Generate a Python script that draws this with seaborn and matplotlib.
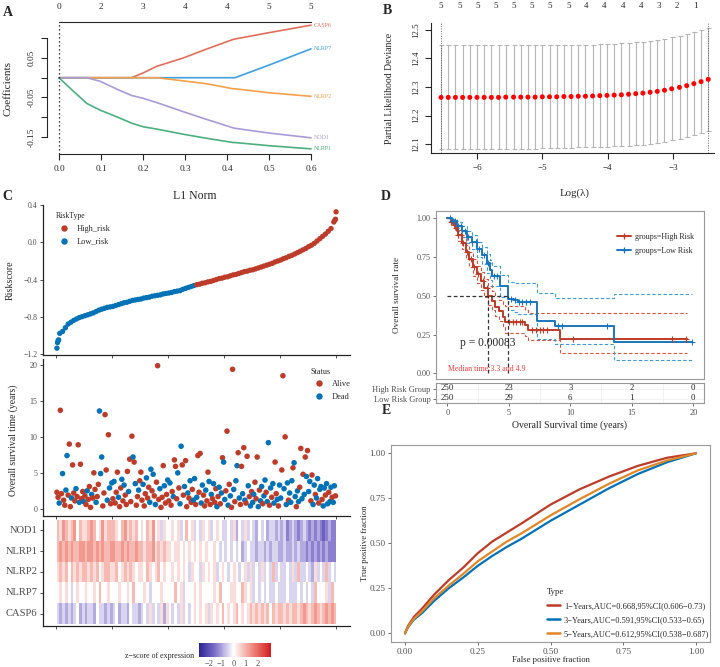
import numpy as np
import pandas as pd
import matplotlib
matplotlib.use("Agg")
import matplotlib.pyplot as plt
import seaborn as sns
from matplotlib.lines import Line2D
from matplotlib.colors import LinearSegmentedColormap

sns.set_style("ticks")
plt.rcParams["font.family"] = ["Liberation Serif", "DejaVu Serif"]
plt.rcParams["axes.unicode_minus"] = True

# ---------------- Panel A : LASSO coefficient paths ----------------
l1_norm = [0, 0.03, 0.066, 0.098, 0.14, 0.173, 0.20, 0.233, 0.296, 0.35, 0.415, 0.419, 0.5, 0.6]
coef_CASP6 = [0, 0, 0, 0, 0, 0, 0.012, 0.029, 0.05, 0.072, 0.097, 0.098, 0.114, 0.133]
coef_NLRP7 = [0, 0, 0, 0, 0, 0, 0, 0, 0, 0, 0, 0, 0.032, 0.073]
coef_NLRP2 = [0, 0, 0, 0, 0, 0, 0, 0, -0.008, -0.015, -0.028, -0.028, -0.038, -0.047]
coef_NOD1 = [0, 0, 0, -0.009, -0.03, -0.045, -0.052, -0.063, -0.086, -0.105, -0.127, -0.128, -0.14, -0.152]
coef_NLRP1 = [0, -0.03, -0.065, -0.082, -0.10, -0.115, -0.124, -0.13, -0.143, -0.153, -0.164, -0.164, -0.172, -0.18]
A_top_labels = ["0", "2", "3", "4", "4", "5", "5"]

# ---------------- Panel B : cross-validation ----------------
log_lambda = [-6.55, -6.44, -6.33, -6.22, -6.11, -6.00, -5.89, -5.78, -5.67, -5.56, -5.44, -5.33,
              -5.22, -5.11, -5.00, -4.89, -4.78, -4.67, -4.56, -4.45, -4.34, -4.23, -4.12, -4.01,
              -3.90, -3.79, -3.68, -3.57, -3.46, -3.35, -3.24, -3.13, -3.02, -2.90, -2.79, -2.68,
              -2.57, -2.46]
cv_mean = [12.264, 12.264, 12.264, 12.264, 12.264, 12.264, 12.264, 12.264, 12.264, 12.265, 12.265,
           12.265, 12.265, 12.265, 12.266, 12.266, 12.266, 12.267, 12.267, 12.268, 12.268, 12.269,
           12.270, 12.271, 12.272, 12.273, 12.275, 12.277, 12.279, 12.282, 12.285, 12.289, 12.294,
           12.299, 12.305, 12.312, 12.319, 12.327]
cv_upper = [12.446, 12.446, 12.446, 12.446, 12.446, 12.446, 12.446, 12.446, 12.446, 12.446, 12.446,
            12.446, 12.446, 12.446, 12.446, 12.446, 12.446, 12.446, 12.446, 12.447, 12.447, 12.448,
            12.449, 12.450, 12.451, 12.453, 12.455, 12.457, 12.459, 12.462, 12.465, 12.469, 12.474,
            12.479, 12.485, 12.492, 12.500, 12.508]
cv_lower = [12.082, 12.082, 12.082, 12.082, 12.082, 12.082, 12.082, 12.082, 12.082, 12.084, 12.084,
            12.084, 12.084, 12.084, 12.086, 12.086, 12.086, 12.088, 12.088, 12.089, 12.089, 12.090,
            12.091, 12.092, 12.093, 12.093, 12.095, 12.097, 12.099, 12.102, 12.105, 12.109, 12.114,
            12.119, 12.125, 12.132, 12.138, 12.146]
B_top_pos = [-6.55, -6.27, -5.99, -5.72, -5.44, -5.16, -4.88, -4.60, -4.33, -4.05, -3.77, -3.49,
             -3.21, -2.94, -2.66]
B_top_labels = ["5", "5", "5", "5", "5", "5", "5", "5", "4", "4", "4", "4", "3", "2", "1"]

# ---------------- Panel C : risk score / survival / heatmap ----------------
risk_rank = [1, 2, 3, 4] + list(range(6, 497, 5)) + [498, 499, 500]
risk_score = [-1.14, -1.08, -1.06, -1.05,
              -0.98, -0.96, -0.92, -0.88, -0.86, -0.84, -0.825, -0.81, -0.80, -0.79,
              -0.78, -0.77, -0.76, -0.745, -0.73, -0.72, -0.71, -0.70, -0.695, -0.69,
              -0.68, -0.67, -0.66, -0.65, -0.645, -0.635, -0.625, -0.62, -0.615, -0.61,
              -0.60, -0.595, -0.59, -0.58, -0.575, -0.57, -0.565, -0.555, -0.55, -0.545,
              -0.54, -0.53, -0.525, -0.52, -0.505, -0.495, -0.485, -0.475, -0.465, -0.455,
              -0.45, -0.44, -0.435, -0.425, -0.42, -0.41, -0.40, -0.39, -0.385, -0.375,
              -0.37, -0.36, -0.35, -0.345, -0.335, -0.325, -0.315, -0.31, -0.30, -0.295,
              -0.285, -0.275, -0.265, -0.255, -0.245, -0.235, -0.225, -0.21, -0.20, -0.19,
              -0.175, -0.165, -0.15, -0.14, -0.125, -0.11, -0.095, -0.08, -0.065, -0.045,
              -0.03, -0.01, 0.015, 0.04, 0.065, 0.09, 0.12, 0.15, 0.22,
              0.24, 0.25, 0.33]
risk_cutoff_rank = 250

os_rank = list(range(1, 500, 2))
os_time = [
    2.3, 1.6, 0.8, 13.7, 2.1, 4.9, 1.2, 0.5, 2.6, 7.4, 1.9, 9.0, 0.3, 1.5, 6.1, 2.2, 1.1, 2.8, 1.7, 8.9, 0.9, 6.2, 1.4, 2.4, 1.0,
    1.8, 0.6, 2.5, 1.3, 3.1, 0.2, 2.0, 1.5, 5.0, 2.7, 0.9, 1.7, 3.4, 13.6, 4.9, 7.2, 0.4, 2.2, 13.1, 5.4, 1.2, 10.3, 2.9, 0.7, 3.6,
    1.4, 3.8, 0.8, 2.3, 5.1, 1.6, 0.3, 2.9, 4.1, 1.1, 3.3, 1.9, 0.6, 5.2, 2.4, 6.9, 1.0, 10.1, 7.2, 6.5, 3.5, 0.5, 1.7, 2.6, 3.9,
    5.1, 1.2, 3.4, 0.4, 2.1, 4.3, 1.5, 3.0, 0.9, 5.5, 2.5, 4.8, 1.8, 0.6, 3.7, 19.9, 1.3, 2.8, 0.2, 1.6, 6.0, 3.2, 0.8, 2.0, 4.0,
    1.1, 3.6, 0.5, 2.4, 1.7, 6.8, 5.9, 1.4, 5.0, 2.9, 0.7, 8.7, 6.1, 1.9, 3.1, 6.7, 0.3, 2.2, 1.5, 3.9, 0.9, 2.7, 1.2, 4.2, 0.6,
    1.6, 7.4, 2.3, 7.7, 0.8, 3.3, 1.9, 0.4, 2.6, 1.1, 5.1, 3.8, 0.6, 2.0, 1.4, 3.5, 0.9, 2.8, 0.3, 1.7, 3.0, 0.7, 2.2, 7.1, 6.5,
    1.3, 2.5, 10.8, 0.5, 3.4, 1.8, 0.2, 19.4, 2.7, 1.0, 3.9, 6.0, 7.8, 1.5, 0.6, 5.9, 2.1, 8.5, 1.2, 0.8, 7.3, 3.2, 1.7, 0.4, 2.4,
    0.9, 2.0, 3.7, 1.4, 7.2, 0.3, 2.6, 1.1, 3.1, 0.7, 1.8, 4.0, 2.3, 1.0, 9.2, 0.5, 2.9, 1.6, 3.5, 0.8, 6.5, 2.1, 1.3, 0.4, 3.3,
    1.5, 5.4, 18.5, 2.8, 10.0, 0.6, 3.6, 1.2, 2.2, 0.9, 3.9, 5.7, 6.4, 1.7, 0.3, 2.5, 1.0, 3.0, 8.4, 1.4, 4.8, 2.0, 7.2, 4.5, 8.1,
    2.4, 3.8, 1.1, 4.7, 0.6, 3.3, 2.0, 1.5, 4.2, 0.8, 2.7, 3.1, 1.3, 0.4, 2.9, 1.9, 3.5, 0.7, 2.3, 1.0, 3.0, 1.6, 0.9, 3.2, 1.8]
os_status_code = ("AADAADAADDAAADAAADAADAAAD" "AADAAADAAADAADDDAAAADADAD" "ADAAADAADADAAADAAADADAADA"
                  "AADAADAADDADADAAADAAADAAD" "ADAADAAADADDAADAADADAADDA" "DAAADDAADAADADADAADADADAD"
                  "DAADADAADADDADAADADAADADA" "DDAAADADDADDADDADADDAADAD" "DAADADDADDDADDADDAADADADA"
                  "DDAADDADDADDADDADDADDADDA")

genes = ["NOD1", "NLRP1", "NLRP2", "NLRP7", "CASP6"]
expr_NOD1 = ("6576567465" "5676457566" "6546756564" "5465745354" "4545346453"
             "4354534543" "3435243534" "3243423323" "2312321232" "1212101211")
expr_NLRP1 = ("6767676677" "6776767667" "7667676676" "6566756565" "5455454545"
              "4545445434" "3434342343" "3233232332" "2322323221" "2121212111")
expr_NLRP2 = ("5656465656" "6565645665" "5645656545" "5465456454" "4545454354"
              "4354545345" "4345434535" "3435343634" "3343536334" "3253436343")
expr_NLRP7 = ("4545434544" "5445464454" "4454454644" "4543444544" "4464534445"
              "4544445464" "4455446545" "3434343343" "3343334343" "4364445364")
expr_CASP6 = ("3232323423" "2332433232" "3423324332" "3435343525" "4343534345"
              "4545354546" "4545645456" "5656564656" "6565665676" "5676567676")
zscore_step = 0.45   # one digit level in the expression strings

# ---------------- Panel D : Kaplan-Meier ----------------
hi_time = [0, 0.3, 0.6, 0.9, 1.2, 1.5, 1.8, 2.1, 2.4, 2.7, 3.0, 3.3, 3.6, 3.9, 4.2, 4.5, 4.7, 6.3, 6.6, 9.2, 19.5]
hi_surv = [1.0, 0.975, 0.94, 0.89, 0.84, 0.785, 0.735, 0.685, 0.64, 0.595, 0.55, 0.50, 0.465, 0.43, 0.40,
           0.365, 0.333, 0.31, 0.28, 0.222, 0.222]
hi_upper = [1.0, 0.99, 0.965, 0.925, 0.88, 0.83, 0.785, 0.74, 0.695, 0.655, 0.61, 0.565, 0.53, 0.50, 0.47,
            0.45, 0.435, 0.41, 0.388, 0.387, 0.387]
hi_lower = [1.0, 0.955, 0.915, 0.855, 0.80, 0.74, 0.685, 0.63, 0.585, 0.535, 0.49, 0.44, 0.405, 0.37, 0.34,
            0.305, 0.258, 0.24, 0.215, 0.129, 0.129]
lo_time = [0, 0.4, 0.8, 1.2, 1.6, 2.0, 2.4, 2.8, 3.2, 3.47, 3.6, 4.28, 4.96, 5.4, 5.77, 7.26, 7.3, 8.75, 13.55, 19.9]
lo_surv = [1.0, 0.98, 0.95, 0.915, 0.88, 0.845, 0.80, 0.76, 0.71, 0.667, 0.625, 0.56, 0.48, 0.47, 0.458,
           0.381, 0.34, 0.308, 0.204, 0.204]
lo_upper = [1.0, 0.995, 0.975, 0.95, 0.92, 0.89, 0.85, 0.815, 0.77, 0.73, 0.695, 0.635, 0.59, 0.58, 0.58,
            0.515, 0.515, 0.487, 0.509, 0.509]
lo_lower = [1.0, 0.96, 0.92, 0.88, 0.84, 0.80, 0.75, 0.705, 0.65, 0.605, 0.56, 0.49, 0.41, 0.395, 0.38,
            0.30, 0.224, 0.19, 0.084, 0.084]
hi_censor = [0.3, 0.5, 0.7, 0.9, 1.1, 1.3, 1.6, 1.9, 2.2, 2.5, 2.9, 3.2, 5.0, 5.3, 5.6, 5.9, 6.1,
             6.9, 7.2, 7.5, 7.8, 8.1, 10.2, 18.3, 19.4]
lo_censor = [0.2, 0.4, 0.6, 0.9, 1.1, 1.4, 1.7, 2.0, 2.3, 2.6, 3.0, 3.3, 3.8, 4.0, 5.2, 5.5, 5.8, 6.1,
             6.4, 6.7, 9.0, 9.3, 13.0, 19.9]
median_times = [3.3, 4.9]
risk_times = [0, 5, 10, 15, 20]
hi_at_risk = [250, 23, 3, 2, 0]
lo_at_risk = [250, 29, 6, 1, 0]
p_value_text = "p = 0.00083"

# ---------------- Panel E : time-dependent ROC ----------------
roc_fpr = [0, 0.01, 0.03, 0.06, 0.10, 0.15, 0.20, 0.25, 0.30, 0.35, 0.40, 0.50, 0.60, 0.70, 0.80, 0.90, 1.0]
roc_tpr_1y = [0, 0.04, 0.09, 0.14, 0.215, 0.295, 0.365, 0.445, 0.51, 0.56, 0.61, 0.715, 0.80, 0.87, 0.93, 0.975, 1.0]
roc_tpr_3y = [0, 0.033, 0.075, 0.115, 0.18, 0.25, 0.31, 0.375, 0.43, 0.48, 0.525, 0.625, 0.715, 0.805, 0.885, 0.95, 1.0]
roc_tpr_5y = [0, 0.035, 0.08, 0.125, 0.195, 0.265, 0.33, 0.40, 0.455, 0.51, 0.555, 0.655, 0.745, 0.83, 0.905, 0.96, 1.0]
roc_labels = ["1\u2212Years,AUC=0.668,95%CI(0.606\u22120.73)",
              "3\u2212Years,AUC=0.591,95%CI(0.533\u22120.65)",
              "5\u2212Years,AUC=0.612,95%CI(0.538\u22120.687)"]

RED, BLUE, ORANGE = "#BC3C29", "#0072B5", "#E18727"
GREY30 = "#4d4d4d"

W, H = 720, 667
fig = plt.figure(figsize=(7.2, 6.67), dpi=100)


def axpx(l, t, r, b):
    return fig.add_axes([l / W, 1 - b / H, (r - l) / W, (b - t) / H])


def ftext(x, y, s, **kw):
    kw.setdefault("ha", "center")
    kw.setdefault("va", "center")
    fig.text(x / W, 1 - y / H, s, **kw)


# ======================= A =======================
axA = axpx(47, 22, 321, 154)
A_genes = [("CASP6", coef_CASP6, "#E06E5A"), ("NLRP7", coef_NLRP7, "#3FA1E0"),
           ("NLRP2", coef_NLRP2, "#F5A04A"), ("NOD1", coef_NOD1, "#A89BD6"),
           ("NLRP1", coef_NLRP1, "#4CAF7D")]
for name, vals, col in A_genes:
    sns.lineplot(x=l1_norm, y=vals, ax=axA, color=col, lw=1.2)
    axA.text(l1_norm[-1] + 0.006, vals[-1], name, color=col, fontsize=4.3, ha="left", va="center")
axA.axvline(0, color="k", lw=0.9, ls=(0, (1, 2.2)))
axA.set_xlim(-0.0286, 0.6238)
axA.set_ylim(-0.193, 0.141)
axA.set_xticks([0, 0.1, 0.2, 0.3, 0.4, 0.5, 0.6])
axA.set_xticklabels(["0.0", "0.1", "0.2", "0.3", "0.4", "0.5", "0.6"], fontsize=6.7)
axA.set_yticks([0.10, 0.05, 0.0, -0.05, -0.10, -0.15])
axA.set_yticklabels(["", "0.05", "", "-0.05", "", "-0.15"], fontsize=6.7, rotation=90, va="center")
axA.spines["right"].set_visible(False)
axA.spines["top"].set_visible(False)
axA.spines["bottom"].set_bounds(0, 0.6)
axA.spines["left"].set_bounds(-0.15, 0.10)
for s in ["bottom", "left"]:
    axA.spines[s].set_linewidth(0.8)
axA.tick_params(direction="out", length=4, width=0.8, pad=4)
axAt = axA.twiny()
axAt.set_xlim(axA.get_xlim())
axAt.set_xticks([0, 0.1, 0.2, 0.3, 0.4, 0.5, 0.6])
axAt.set_xticklabels(A_top_labels, fontsize=6.7)
for s in ["left", "right", "bottom"]:
    axAt.spines[s].set_visible(False)
axAt.spines["top"].set_bounds(0, 0.6)
axAt.spines["top"].set_linewidth(0.8)
axAt.tick_params(length=0, pad=8)
axA.set_xlabel("")
axA.set_ylabel("")
ftext(8, 88, "Coefficients", fontsize=8.1, rotation=90)
ftext(195, 196, "L1 Norm", fontsize=8.5)

# ======================= B =======================
axB = axpx(431, 23, 714, 153)
lam = np.array(log_lambda)
mean = np.array(cv_mean)
axB.errorbar(lam, mean, yerr=[mean - np.array(cv_lower), np.array(cv_upper) - mean], fmt="none",
             ecolor="#b5b5b5", elinewidth=0.8, capsize=1.8, capthick=0.8)
sns.scatterplot(x=log_lambda, y=cv_mean, ax=axB, color="#FF0000", s=13, edgecolor="none", zorder=3)
axB.axvline(log_lambda[0], color="#666666", lw=0.7, ls=(0, (1, 1.5)))
axB.axvline(log_lambda[-1], color="#666666", lw=0.7, ls=(0, (1, 1.5)))
axB.set_xlim(-6.704, -2.372)
axB.set_ylim(12.0696, 12.524)
axB.set_xticks([-6, -5, -4, -3])
axB.set_xticklabels(["\u22126", "\u22125", "\u22124", "\u22123"], fontsize=6.5)
axB.set_yticks([12.1, 12.2, 12.3, 12.4, 12.5])
axB.set_yticklabels(["12.1", "12.2", "12.3", "12.4", "12.5"], fontsize=6.3, rotation=90, va="center")
axB.spines["right"].set_visible(False)
axB.spines["top"].set_visible(False)
for s in ["bottom", "left"]:
    axB.spines[s].set_linewidth(0.8)
axB.tick_params(direction="out", length=4, width=0.8, pad=4)
axBt = axB.twiny()
axBt.set_xlim(axB.get_xlim())
axBt.set_xticks(B_top_pos)
axBt.set_xticklabels(B_top_labels, fontsize=6.5)
for s in axBt.spines.values():
    s.set_visible(False)
axBt.tick_params(length=0, pad=9)
axB.set_xlabel("")
axB.set_ylabel("")
ftext(389, 88, "Partial Likelihood Deviance", fontsize=7, rotation=90)
ftext(575, 193, "Log(\u03bb)", fontsize=7.8)

# ======================= C =======================
XL = (-23.95, 524.95)
ticks_rank = [0, 100, 200, 300, 400, 500]

axR = axpx(43, 205, 350, 355)
risk_df = pd.DataFrame({"rank": risk_rank, "score": risk_score})
risk_df["RiskType"] = np.where(risk_df["rank"] > risk_cutoff_rank, "High_risk", "Low_risk")
sns.scatterplot(data=risk_df, x="rank", y="score", hue="RiskType", ax=axR,
                palette={"High_risk": RED, "Low_risk": BLUE}, s=15, edgecolor="none", legend=False)
axR.set_xlim(*XL)
axR.set_ylim(-1.2135, 0.4035)
axR.set_yticks([0.4, 0.0, -0.4, -0.8, -1.2])
axR.set_yticklabels(["0.4", "0.0", "\u22120.4", "\u22120.8", "\u22121.2"], fontsize=5.6, color=GREY30)
axR.set_xticks(ticks_rank)
axR.set_xticklabels([])
axR.set_xlabel("")
axR.set_ylabel("")
leg = axR.legend(handles=[Line2D([], [], marker="o", ls="", color=RED, markersize=3.6),
                          Line2D([], [], marker="o", ls="", color=BLUE, markersize=3.6)],
                 labels=["High_risk", "Low_risk"], title="RiskType", loc="upper left",
                 bbox_to_anchor=(48 / W, 1 - 205 / H), bbox_transform=fig.transFigure,
                 frameon=False, fontsize=6, title_fontsize=5.6, handletextpad=0.6, labelspacing=0.55)
leg._legend_box.align = "left"

axS = axpx(43, 358.5, 350, 516)
os_df = pd.DataFrame({"rank": os_rank, "time": os_time,
                      "Status": ["Alive" if c == "A" else "Dead" for c in os_status_code]})
sns.scatterplot(data=os_df, x="rank", y="time", hue="Status", ax=axS,
                palette={"Alive": RED, "Dead": BLUE}, s=16, edgecolor="none", legend=False)
axS.set_xlim(*XL)
axS.set_ylim(-1.0, 20.9)
axS.set_yticks([0, 5, 10, 15, 20])
axS.set_yticklabels(["0", "5", "10", "15", "20"], fontsize=5.8, color=GREY30)
axS.set_xticks(ticks_rank)
axS.set_xticklabels([])
axS.set_xlabel("")
axS.set_ylabel("")
leg2 = axS.legend(handles=[Line2D([], [], marker="o", ls="", color=RED, markersize=3.6),
                           Line2D([], [], marker="o", ls="", color=BLUE, markersize=3.6)],
                  labels=["Alive", "Dead"], title="Status", loc="upper left",
                  bbox_to_anchor=(303 / W, 1 - 360 / H), bbox_transform=fig.transFigure,
                  frameon=False, fontsize=6, title_fontsize=5.9, handletextpad=0.6, labelspacing=0.55)
leg2._legend_box.align = "left"

for ax in (axR, axS):
    sns.despine(ax=ax)
    for s in ["bottom", "left"]:
        ax.spines[s].set_linewidth(0.9)
        ax.spines[s].set_color("#222222")
    ax.tick_params(length=2.5, width=0.6, colors="#333333", pad=1.5)
    ax.tick_params(axis="y", labelcolor=GREY30)

ftext(10, 280, "Riskscore", fontsize=7.2, rotation=90)
ftext(13, 440, "Overall survival time (years)", fontsize=6.9, rotation=90)

axH = axpx(43, 520, 350, 626)
cax = axpx(199, 643, 271, 657)
expr = np.array([[(int(ch) - 4) * zscore_step for ch in row]
                 for row in (expr_NOD1, expr_NLRP1, expr_NLRP2, expr_NLRP7, expr_CASP6)])
heat_df = pd.DataFrame(expr, index=genes)
cmap = LinearSegmentedColormap.from_list("bwr2", ["#1c168a", "#7d6fc9", "#ffffff", "#ef8a7e", "#d21e1e"])
sns.heatmap(heat_df, ax=axH, cmap=cmap, vmin=-2.85, vmax=3.1, center=0, cbar_ax=cax,
            cbar_kws={"orientation": "horizontal", "ticks": [-2, -1, 0, 1, 2]},
            xticklabels=False, yticklabels=genes)
ncol = expr.shape[1]
rank_per_col = 500 / ncol
axH.set_xlim((XL[0] - 0.5) / rank_per_col, (XL[1] - 0.5) / rank_per_col)
axH.set_ylim(5.1, 0)
axH.set_xticks([(r - 0.5) / rank_per_col for r in ticks_rank])
axH.set_xticklabels([])
axH.set_yticklabels(genes, rotation=0, fontsize=7.6, color=GREY30)
for s in ["left", "bottom"]:
    axH.spines[s].set_visible(True)
    axH.spines[s].set_linewidth(0.9)
    axH.spines[s].set_color("#222222")
axH.tick_params(length=2.5, width=0.6, colors="#333333", pad=1.5, bottom=True, left=True)
axH.tick_params(axis="y", labelcolor=GREY30)
axH.set_xlabel("")
axH.set_ylabel("")
cbar = axH.collections[0].colorbar
cbar.outline.set_visible(False)
cbar.ax.tick_params(labelsize=6, length=0, pad=2, labelcolor=GREY30)
cbar.ax.set_xticklabels(["\u22122", "\u22121", "0", "1", "2"])
ftext(194, 656, "z\u2212score of expression", fontsize=5.7, ha="right")

# ======================= D =======================
axD = axpx(436, 211, 704, 379)
for t, u, l, col in [(hi_time, hi_upper, hi_lower, "#D9503D"), (lo_time, lo_upper, lo_lower, "#3A9AD9")]:
    axD.plot(t, u, drawstyle="steps-post", color=col, lw=0.8, ls=(0, (3, 2)))
    axD.plot(t, l, drawstyle="steps-post", color=col, lw=0.8, ls=(0, (3, 2)))
sns.lineplot(x=hi_time, y=hi_surv, ax=axD, drawstyle="steps-post", color=RED, lw=1.4)
sns.lineplot(x=lo_time, y=lo_surv, ax=axD, drawstyle="steps-post", color="#1B75BB", lw=1.4)
for tt, ss, cens, col in [(hi_time, hi_surv, hi_censor, RED), (lo_time, lo_surv, lo_censor, "#1B75BB")]:
    idx = np.searchsorted(tt, cens, side="right") - 1
    axD.plot(cens, np.array(ss)[idx], ls="", marker="+", color=col, ms=4.5, mew=0.8)
axD.plot([0, max(median_times)], [0.5, 0.5], color="#333333", lw=0.9, ls=(0, (3, 2)))
for m in median_times:
    axD.plot([m, m], [0, 0.5], color="#333333", lw=0.9, ls=(0, (3, 2)))
axD.text(1.03, 0.195, p_value_text, fontsize=8.3, ha="left", va="center")
axD.text(0.06, 0.026, "Median time:3.3 and 4.9", fontsize=5.7, ha="left", va="center", color="#F23A3A")
axD.set_xlim(-0.92, 20.87)
axD.set_ylim(-0.037, 1.047)
axD.set_xticks([])
axD.set_yticks([0, 0.25, 0.5, 0.75, 1.0])
axD.set_yticklabels(["0.00", "0.25", "0.50", "0.75", "1.00"], fontsize=5.9, color=GREY30)
axD.tick_params(length=2.5, width=0.6, colors="#555555", pad=1.5)
axD.tick_params(axis="y", labelcolor=GREY30)
axD.set_xlabel("")
axD.set_ylabel("")
for s in axD.spines.values():
    s.set_visible(True)
    s.set_color("#999999")
    s.set_linewidth(0.8)
legD = axD.legend(handles=[Line2D([], [], color=RED, lw=1.4, marker="+", ms=5, mew=0.9),
                           Line2D([], [], color="#1B75BB", lw=1.4, marker="+", ms=5, mew=0.9)],
                  labels=["groups=High Risk", "groups=Low Risk"], loc="upper left",
                  bbox_to_anchor=(610 / W, 1 - 226 / H), bbox_transform=fig.transFigure,
                  frameon=False, fontsize=5.8, handlelength=1.7, handletextpad=0.5, labelspacing=0.75)
ftext(397, 295, "Overall survival rate", fontsize=6.6, rotation=90)

axT = axpx(436, 383, 704, 403)
axT.set_xlim(-0.92, 20.87)
axT.set_ylim(0, 2)
for g in np.arange(0, 20.1, 2.5):
    axT.axvline(g, color="#ebebeb", lw=0.5, zorder=0)
for yy in (0.45, 1.45):
    axT.axhline(yy, color="#ebebeb", lw=0.5, zorder=0)
for t, n1, n2 in zip(risk_times, hi_at_risk, lo_at_risk):
    axT.text(t, 1.45, str(n1), ha="center", va="center", fontsize=6.3)
    axT.text(t, 0.45, str(n2), ha="center", va="center", fontsize=6.3)
axT.set_xticks(risk_times)
axT.set_xticklabels([str(t) for t in risk_times], fontsize=6, color=GREY30)
axT.set_yticks([1.45, 0.45])
axT.set_yticklabels(["High Risk Group", "Low Risk Group"], fontsize=6, color=GREY30)
axT.tick_params(length=2.5, width=0.6, colors="#555555", pad=1.5)
axT.tick_params(labelcolor=GREY30)
for s in axT.spines.values():
    s.set_visible(True)
    s.set_color("#999999")
    s.set_linewidth(0.8)
ftext(569, 425, "Overall Survival time (years)", fontsize=7)

# ======================= E =======================
axE = axpx(391, 445, 710, 642)
roc_df = pd.DataFrame({"fpr": roc_fpr * 3,
                       "tpr": roc_tpr_1y + roc_tpr_3y + roc_tpr_5y,
                       "Type": [roc_labels[0]] * len(roc_fpr) + [roc_labels[1]] * len(roc_fpr)
                               + [roc_labels[2]] * len(roc_fpr)})
sns.lineplot(data=roc_df, x="fpr", y="tpr", hue="Type", ax=axE, lw=1.6,
             palette={roc_labels[0]: RED, roc_labels[1]: BLUE, roc_labels[2]: ORANGE},
             legend=False, sort=False)
axE.set_xlim(-0.048, 1.048)
axE.set_ylim(-0.048, 1.046)
axE.set_xticks([0, 0.25, 0.5, 0.75, 1.0])
axE.set_xticklabels(["0.00", "0.25", "0.50", "0.75", "1.00"], fontsize=6.6, color=GREY30)
axE.set_yticks([0, 0.25, 0.5, 0.75, 1.0])
axE.set_yticklabels(["0.00", "0.25", "0.50", "0.75", "1.00"], fontsize=6.6, color=GREY30)
axE.tick_params(length=2.5, width=0.6, colors="#555555", pad=1.5)
axE.tick_params(labelcolor=GREY30)
axE.set_xlabel("")
axE.set_ylabel("")
for s in axE.spines.values():
    s.set_visible(True)
    s.set_color("#999999")
    s.set_linewidth(0.8)
legE = axE.legend(handles=[Line2D([], [], color=c, lw=1.8) for c in (RED, BLUE, ORANGE)],
                  labels=roc_labels, title="Type", loc="upper left",
                  bbox_to_anchor=(539 / W, 1 - 580 / H), bbox_transform=fig.transFigure,
                  frameon=False, fontsize=6, title_fontsize=6.2, handlelength=1.6,
                  handletextpad=0.5, labelspacing=0.75)
legE._legend_box.align = "left"
ftext(551, 660, "False positive fraction", fontsize=6.2)
ftext(365, 543, "True positive fraction", fontsize=6.2, rotation=90)

# panel letters
for x, y, s in [(8, 12.5, "A"), (387, 10, "B"), (7, 197, "C"), (386, 197, "D"), (386, 411, "E")]:
    ftext(x, y, s, fontsize=10, weight="bold")

fig.savefig("out.png", dpi=100)
